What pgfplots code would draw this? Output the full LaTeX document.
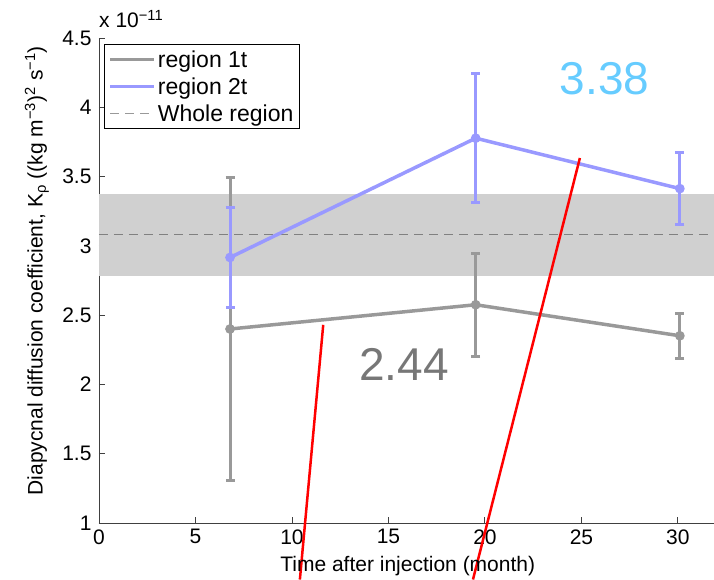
\documentclass[border=0pt]{standalone}
\usepackage{pgfplots}
\pgfplotsset{compat=1.18}
\usepackage{fontspec}
\setmainfont{Liberation Sans}
\definecolor{serA}{HTML}{999999}
\definecolor{serB}{HTML}{9999FF}
\definecolor{band}{HTML}{D0D0D0}
\definecolor{lbl1}{HTML}{777777}
\definecolor{lbl2}{HTML}{66CCFF}
\newcommand{\fs}{\fontsize{21}{24}\selectfont}
\begin{document}
\begin{tikzpicture}
\begin{axis}[
  name=ax,
  scale only axis,
  width=615pt, height=485pt,
  xmin=0, xmax=31.87, ymin=1, ymax=4.5,
  axis x line*=bottom, axis y line*=left,
  axis line style={black!75, line width=0.9pt, -},
  xtick={0,5,...,30},
  ytick={1,1.5,...,4.5},
  tick align=inside,
  major tick length=6pt,
  tick style={black!75, line width=0.9pt},
  /pgf/number format/assume math mode=true,
  ticklabel style={font=\fs},
  yticklabel style={/pgf/number format/fixed, xshift=-4pt},
  xticklabel style={yshift=-3pt},
  clip=false,
  xlabel={Time after injection (month)},
  xlabel style={font=\fs, at={(axis description cs:0.502,-0.088)}, anchor=center},
  ylabel={Diapycnal diffusion coefficient, K\textsubscript{ρ} ((kg m\textsuperscript{−3})\textsuperscript{2} s\textsuperscript{−1})},
  ylabel style={font=\fs, at={(axis description cs:-0.101,0.52)}, anchor=center},
  legend style={font=\fontsize{23}{26}\selectfont, at={(axis description cs:0,1)}, anchor=north west,
     xshift=5pt, yshift=-6pt, draw=black, line width=0.8pt, inner xsep=4pt, inner ysep=4pt,
     row sep=5pt, fill=white},
  legend cell align=left,
  legend image code/.code={\draw[#1, mark=none] (0pt,0pt) -- (44pt,0pt);},
]
% whole-region band and mean
\addplot[fill=band, draw=none, forget plot] coordinates {(0,2.786) (31.87,2.786) (31.87,3.375) (0,3.375)} -- cycle;
\addplot[color=black!50, line width=0.8pt, dash pattern=on 9pt off 6pt, forget plot] coordinates {(0,3.08) (31.87,3.08)};
% region 1t
\addplot[color=serA, line width=3.5pt, mark=*, mark size=3pt,
  error bars/.cd, y dir=both, y explicit,
  error bar style={line width=3pt, color=serA},
  error mark options={rotate=90, line width=3pt, mark size=4.5pt, color=serA}]
  coordinates {
  (6.79,2.400) +- (0,1.09)
  (19.52,2.575) +- (0,0.372)
  (30.10,2.351) +- (0,0.161)
  };
\addlegendentry{region 1t}
% region 2t
\addplot[color=serB, line width=3.5pt, mark=*, mark size=3pt,
  error bars/.cd, y dir=both, y explicit,
  error bar style={line width=3pt, color=serB},
  error mark options={rotate=90, line width=3pt, mark size=4.5pt, color=serB}]
  coordinates {
  (6.79,2.916) +- (0,0.362)
  (19.52,3.777) +- (0,0.465)
  (30.10,3.413) +- (0,0.261)
  };
\addlegendentry{region 2t}
\addlegendimage{color=black!40, line width=0.8pt, dash pattern=on 9pt off 6pt}
\addlegendentry{Whole region}
% red annotation strokes
\addplot[red, line width=2.5pt, forget plot] coordinates {(10.41,0.592) (11.62,2.43)};
\addplot[red, line width=2.5pt, forget plot] coordinates {(19.38,0.592) (24.92,3.634)};
% annotation values
\node[font=\fontsize{46}{46}\selectfont, text=lbl2] at (axis cs:26.2,4.21) {3.38};
\node[font=\fontsize{46}{46}\selectfont, text=lbl1] at (axis cs:15.8,2.142) {2.44};
\node[font=\fs, anchor=base west, inner sep=0pt] at ([yshift=10pt]rel axis cs:0,1) {x 10\textsuperscript{−11}};
\end{axis}
\pgfresetboundingbox
\path[use as bounding box] ([xshift=-99pt,yshift=-57pt]ax.south west) rectangle ([xshift=615pt,yshift=523pt]ax.south west);
\end{tikzpicture}
\end{document}
